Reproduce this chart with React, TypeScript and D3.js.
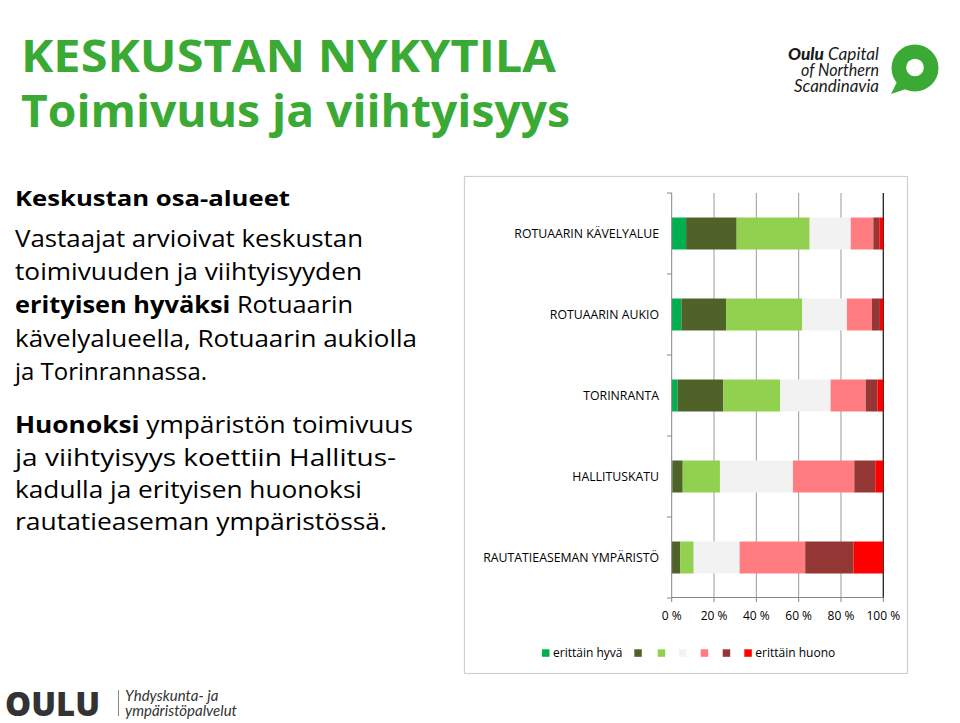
import React from "react";
import * as d3 from "d3";

const categories = [
  "ROTUAARIN KÄVELYALUE",
  "ROTUAARIN AUKIO",
  "TORINRANTA",
  "HALLITUSKATU",
  "RAUTATIEASEMAN YMPÄRISTÖ",
];
const seriesKeys = ["s1", "s2", "s3", "s4", "s5", "s6", "s7"];
const seriesNames = ["erittäin hyvä", "", "", "", "", "", "erittäin huono"];
const seriesColors = ["#00B050", "#4F6228", "#92D050", "#F2F2F2", "#FF7C80", "#953735", "#FF0000"];

const erittainHyva = [6.8, 4.6, 2.8, 0.3, 0];
const hyva = [23.9, 21.1, 21.6, 4.9, 4.1];
const melkoHyva = [34.5, 36.0, 26.9, 17.6, 6.3];
const neutraali = [19.4, 21.1, 23.8, 34.5, 21.7];
const melkoHuono = [10.7, 11.8, 16.6, 29.0, 31.0];
const huono = [2.8, 3.8, 5.6, 9.9, 22.8];
const erittainHuono = [1.9, 1.6, 2.7, 3.8, 14.1];

const xTicks = [0, 20, 40, 60, 80, 100];
const xTickLabels = ["0 %", "20 %", "40 %", "60 %", "80 %", "100 %"];

const seriesValues = [erittainHyva, hyva, melkoHyva, neutraali, melkoHuono, huono, erittainHuono];

const table = categories.map((c, i) => {
  const row: any = { category: c };
  seriesKeys.forEach((k, j) => (row[k] = seriesValues[j][i]));
  return row;
});

const FONT = "'Open Sans', 'DejaVu Sans', sans-serif";

export default function App() {
  const x = d3.scaleLinear().domain([0, 100]).range([671.7, 883.3]);
  const y = d3
    .scaleBand<string>()
    .domain(categories)
    .range([193, 598])
    .paddingInner(0.605)
    .paddingOuter(0.3025);
  const stacked = d3.stack<any>().keys(seriesKeys)(table);
  const step = y.step();
  const boundaries = categories.map((_, i) => 193 + i * step).concat([598]);

  const legendX = [542, 634.3, 657.7, 679, 700.7, 722.7, 744.3];

  return (
    <svg width={960} height={723} style={{ position: "absolute", left: 0, top: 0, background: "#fff" }}>
      <rect x={0} y={0} width={960} height={723} fill="#fff" />
      {/* Title */}
      <text x={21} y={71.5} fontFamily={FONT} fontWeight={700} fontSize={44} fill="#3AAA35" textLength={535} lengthAdjust="spacingAndGlyphs">
        KESKUSTAN NYKYTILA
      </text>
      <text x={21} y={127} fontFamily={FONT} fontWeight={700} fontSize={44} fill="#3AAA35" textLength={549} lengthAdjust="spacingAndGlyphs">
        Toimivuus ja viihtyisyys
      </text>

      {/* Oulu logo top right */}
      <g fontFamily="Lato, 'Open Sans', sans-serif" fontSize={17} fontStyle="italic" fill="#1a1a1a" textAnchor="end">
        <text x={879} y={59.5} textLength={91} lengthAdjust="spacingAndGlyphs">
          <tspan fontWeight={900}>Oulu</tspan>
          <tspan> Capital</tspan>
        </text>
        <text x={879} y={75.5} textLength={78} lengthAdjust="spacingAndGlyphs">of Northern</text>
        <text x={879} y={91.5} textLength={85} lengthAdjust="spacingAndGlyphs">Scandinavia</text>
      </g>
      <g fill="#3AAA35">
        <circle cx={915} cy={68} r={23.5} />
        <path d="M897,82 L891,94 L906,89 Z" />
      </g>
      <circle cx={915} cy={67.5} r={8.8} fill="#fff" />

      {/* Left text */}
      <g fontFamily={FONT} fill="#000">
        <text x={15} y={206} fontSize={22} fontWeight={700} textLength={275} lengthAdjust="spacingAndGlyphs">Keskustan osa-alueet</text>
        <g fontSize={24}>
          <text x={15} y={247} textLength={348} lengthAdjust="spacingAndGlyphs">Vastaajat arvioivat keskustan</text>
          <text x={15} y={280} textLength={347} lengthAdjust="spacingAndGlyphs">toimivuuden ja viihtyisyyden</text>
          <text x={15} y={313} textLength={338} lengthAdjust="spacingAndGlyphs">
            <tspan fontWeight={700}>erityisen hyväksi</tspan> Rotuaarin
          </text>
          <text x={15} y={347} textLength={402} lengthAdjust="spacingAndGlyphs">kävelyalueella, Rotuaarin aukiolla</text>
          <text x={15} y={380} textLength={192} lengthAdjust="spacingAndGlyphs">ja Torinrannassa.</text>
          <text x={15} y={433} textLength={398} lengthAdjust="spacingAndGlyphs">
            <tspan fontWeight={700}>Huonoksi</tspan> ympäristön toimivuus
          </text>
          <text x={15} y={466} textLength={381} lengthAdjust="spacingAndGlyphs">ja viihtyisyys koettiin Hallitus-</text>
          <text x={15} y={498} textLength={347} lengthAdjust="spacingAndGlyphs">kadulla ja erityisen huonoksi</text>
          <text x={15} y={530} textLength={372} lengthAdjust="spacingAndGlyphs">rautatieaseman ympäristössä.</text>
        </g>
      </g>

      {/* Chart frame */}
      <rect x={464.5} y={176.5} width={443} height={497} fill="#fff" stroke="#d0d0d0" strokeWidth={1.2} />

      {/* Gridlines */}
      {xTicks.slice(1).map((t) => (
        <line key={t} x1={x(t)} x2={x(t)} y1={193} y2={598} stroke={t === 100 ? "#222" : "#9a9a9a"} strokeWidth={t === 100 ? 1.3 : 1} />
      ))}

      {/* Bars */}
      {stacked.map((s, si) => (
        <g key={s.key} fill={seriesColors[si]}>
          {s.map((d, i) => (
            <rect
              key={i}
              x={x(d[0])}
              y={y(categories[i])}
              width={Math.max(0, x(d[1]) - x(d[0]))}
              height={y.bandwidth()}
            />
          ))}
        </g>
      ))}

      {/* Y axis */}
      <line x1={x(0)} x2={x(0)} y1={193} y2={598} stroke="#868686" strokeWidth={1} />
      {boundaries.map((b, i) => (
        <line key={i} x1={667} x2={x(0)} y1={b} y2={b} stroke="#868686" strokeWidth={1} />
      ))}
      {/* X axis */}
      <line x1={x(0)} x2={x(100)} y1={597.5} y2={597.5} stroke="#868686" strokeWidth={1} />
      {xTicks.map((t) => (
        <line key={t} x1={x(t)} x2={x(t)} y1={597.5} y2={602} stroke="#868686" strokeWidth={1} />
      ))}
      <g fontFamily={FONT} fontSize={12} fill="#000" textAnchor="middle">
        {xTicks.map((t, i) => (
          <text key={t} x={x(t)} y={620}>{xTickLabels[i]}</text>
        ))}
      </g>
      <g fontFamily={FONT} fontSize={12.3} fill="#000" textAnchor="end">
        {categories.map((c) => (
          <text key={c} x={659} y={(y(c) as number) + y.bandwidth() / 2 + 4.3}>{c}</text>
        ))}
      </g>

      {/* Legend */}
      <g fontFamily={FONT} fontSize={12} fill="#000">
        {seriesKeys.map((k, i) => (
          <g key={k}>
            <rect x={legendX[i]} y={649.3} width={7.5} height={7.5} fill={seriesColors[i]} />
            {seriesNames[i] && (
              <text x={legendX[i] + 11} y={657.3}>{seriesNames[i]}</text>
            )}
          </g>
        ))}
      </g>

      {/* Bottom-left logo */}
      <text x={5} y={716} fontFamily="'Open Sans', sans-serif" fontWeight={800} fontSize={34} fill="#333" textLength={95} lengthAdjust="spacingAndGlyphs">OULU</text>
      <line x1={118.5} x2={118.5} y1={690} y2={716} stroke="#888" strokeWidth={1} />
      <g fontFamily="Lato, 'Open Sans', sans-serif" fontStyle="italic" fontSize={15} fill="#333">
        <text x={125} y={701}>Yhdyskunta- ja</text>
        <text x={125} y={716}>ympäristöpalvelut</text>
      </g>
    </svg>
  );
}
